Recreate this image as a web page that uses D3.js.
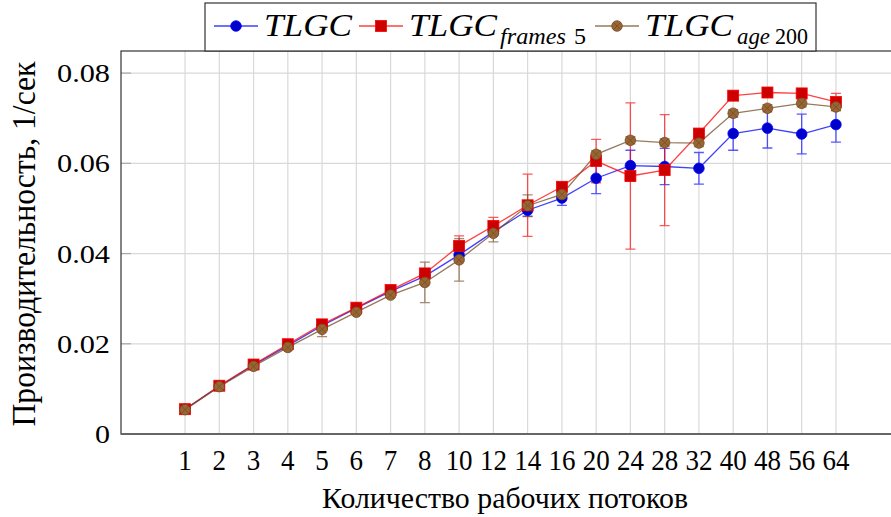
<!DOCTYPE html>
<html>
<head>
    <meta charset="utf-8">
    <script src="https://d3js.org/d3.v7.min.js"></script>
    <style>
        body { margin: 0; background: #fff; }
        text { font-family: 'Liberation Serif', 'DejaVu Serif', serif; fill: #000; }
    </style>
</head>
<body>
    <svg id="chart" width="891" height="517"></svg>
    <script>
        // thread counts on the x axis
        var threads = ["1", "2", "3", "4", "5", "6", "7", "8", "10", "12", "14", "16", "20", "24", "28", "32", "40", "48", "56", "64"];
        var yTicks = [0, 0.02, 0.04, 0.06, 0.08];
        var yTickLabels = ["0", "0.02", "0.04", "0.06", "0.08"];

        // TLGC
        var tlgc = [0.0055, 0.0106, 0.0153, 0.0196, 0.0240, 0.0279, 0.0316, 0.0350, 0.0397, 0.0448, 0.0496, 0.0523, 0.0567, 0.0595, 0.0593, 0.0589, 0.0666, 0.0678, 0.0665, 0.0686];
        var tlgcErr = [0.0002, 0.0003, 0.0003, 0.0004, 0.0004, 0.0004, 0.0005, 0.0006, 0.0008, 0.0008, 0.0013, 0.0016, 0.0034, 0.0034, 0.0040, 0.0035, 0.0037, 0.0044, 0.0044, 0.0039];
        // TLGC frames 5
        var frames5 = [0.0055, 0.0107, 0.0154, 0.0199, 0.0243, 0.0280, 0.0319, 0.0356, 0.0417, 0.0461, 0.0507, 0.0548, 0.0605, 0.0572, 0.0585, 0.0666, 0.0750, 0.0757, 0.0755, 0.0736];
        var frames5Err = [0.0002, 0.0003, 0.0003, 0.0004, 0.0004, 0.0005, 0.0005, 0.0006, 0.0022, 0.0019, 0.0069, 0.0008, 0.0048, 0.0162, 0.0123, 0.0008, 0.0006, 0.0006, 0.0006, 0.0019];
        // TLGC age 200
        var age200 = [0.0054, 0.0105, 0.0150, 0.0192, 0.0232, 0.0270, 0.0308, 0.0336, 0.0386, 0.0445, 0.0506, 0.0531, 0.0620, 0.0651, 0.0646, 0.0645, 0.0711, 0.0722, 0.0733, 0.0725];
        var age200Err = [0.0002, 0.0003, 0.0003, 0.0004, 0.0016, 0.0005, 0.0005, 0.0045, 0.0047, 0.0019, 0.0024, 0.0008, 0.0008, 0.0008, 0.0008, 0.0008, 0.0008, 0.0008, 0.0008, 0.0008];

        var series = [
            { values: tlgc, errs: tlgcErr, line: "#0000ff", fill: "#0000cc", stroke: "#0000ff", mark: "circle", sub: null, num: null },
            { values: frames5, errs: frames5Err, line: "#ff0000", fill: "#cc0000", stroke: "#ff0000", mark: "square", sub: "frames", num: "5" },
            { values: age200, errs: age200Err, line: "#734d26", fill: "#996633", stroke: "#734d26", mark: "otimes", sub: "age", num: "200" }
        ];

        var svg = d3.select("#chart");
        var plotLeft = 121, plotRight = 900, plotTop = 51, plotBottom = 434;

        var x = d3.scalePoint()
            .domain(threads)
            .range([plotLeft, plotRight])
            .padding(1.87);
        var y = d3.scaleLinear()
            .domain([0, 0.0849])
            .range([plotBottom, plotTop]);

        // grid
        svg.append("g")
            .selectAll("line")
            .data(threads)
            .enter().append("line")
            .attr("x1", d => x(d)).attr("x2", d => x(d))
            .attr("y1", plotTop).attr("y2", plotBottom)
            .style("stroke", "#d9d9d9").style("stroke-width", 1.2);
        svg.append("g")
            .selectAll("line")
            .data(yTicks.slice(1))
            .enter().append("line")
            .attr("x1", plotLeft).attr("x2", plotRight)
            .attr("y1", d => y(d)).attr("y2", d => y(d))
            .style("stroke", "#d9d9d9").style("stroke-width", 1.2);
        // small ticks on the left axis
        svg.append("g")
            .selectAll("line")
            .data(yTicks.slice(1))
            .enter().append("line")
            .attr("x1", plotLeft).attr("x2", plotLeft + 10)
            .attr("y1", d => y(d)).attr("y2", d => y(d))
            .style("stroke", "#aaa").style("stroke-width", 1.2);

        // frame
        svg.append("rect")
            .attr("x", plotLeft).attr("y", plotTop)
            .attr("width", plotRight - plotLeft).attr("height", plotBottom - plotTop)
            .style("fill", "none").style("stroke", "#333").style("stroke-width", 1.2);
        svg.append("line")
            .attr("x1", plotLeft).attr("x2", plotRight)
            .attr("y1", plotBottom).attr("y2", plotBottom)
            .style("stroke", "#666").style("stroke-width", 2.2);

        // tick labels
        svg.append("g")
            .selectAll("text")
            .data(yTicks)
            .enter().append("text")
            .attr("x", 110)
            .attr("y", d => y(d) + 9)
            .attr("text-anchor", "end")
            .attr("textLength", (d, i) => i == 0 ? 15 : 53)
            .attr("lengthAdjust", "spacingAndGlyphs")
            .style("font-size", "26px")
            .text((d, i) => yTickLabels[i]);

        svg.append("g")
            .selectAll("text")
            .data(threads)
            .enter().append("text")
            .attr("transform", d => "translate(" + x(d) + ",470) scale(0.9,1)")
            .attr("text-anchor", "middle")
            .style("font-size", "30px")
            .text(d => d);

        // axis titles
        svg.append("text")
            .attr("x", 505).attr("y", 508)
            .attr("text-anchor", "middle")
            .attr("textLength", 366)
            .attr("lengthAdjust", "spacingAndGlyphs")
            .style("font-size", "29px")
            .text("Количество рабочих потоков");

        svg.append("text")
            .attr("transform", "translate(35,244) rotate(-90)")
            .attr("text-anchor", "middle")
            .attr("textLength", 365)
            .attr("lengthAdjust", "spacingAndGlyphs")
            .style("font-size", "33px")
            .text("Производительность, 1/сек");

        function drawMark(g, s, cx, cy) {
            if (s.mark == "circle") {
                g.append("circle").attr("cx", cx).attr("cy", cy).attr("r", 5.3)
                    .style("fill", s.fill).style("stroke", s.stroke).style("stroke-width", 0.8);
            } else if (s.mark == "square") {
                g.append("rect").attr("x", cx - 5.5).attr("y", cy - 5.5)
                    .attr("width", 11).attr("height", 11)
                    .style("fill", s.fill).style("stroke", s.stroke).style("stroke-width", 0.8);
            } else {
                g.append("circle").attr("cx", cx).attr("cy", cy).attr("r", 5.3)
                    .style("fill", s.fill).style("stroke", s.stroke).style("stroke-width", 0.8);
                var k = 5.3 * Math.SQRT1_2;
                g.append("path")
                    .attr("d", "M" + (cx - k) + "," + (cy - k) + "L" + (cx + k) + "," + (cy + k) +
                        "M" + (cx - k) + "," + (cy + k) + "L" + (cx + k) + "," + (cy - k))
                    .style("stroke", s.stroke).style("stroke-width", 0.8);
            }
        }

        var line = d3.line()
            .x((d, i) => x(threads[i]))
            .y(d => y(d));

        var plots = svg.append("g");
        series.forEach(function (s) {
            var g = plots.append("g");
            g.append("path")
                .datum(s.values)
                .attr("d", line)
                .style("fill", "none")
                .style("stroke", s.line)
                .style("stroke-opacity", 0.75)
                .style("stroke-width", 1.3);
            s.values.forEach(function (v, i) {
                var cx = x(threads[i]);
                var lo = y(v - s.errs[i]), hi = y(v + s.errs[i]);
                g.append("path")
                    .attr("d", "M" + cx + "," + lo + "L" + cx + "," + hi +
                        "M" + (cx - 5) + "," + lo + "L" + (cx + 5) + "," + lo +
                        "M" + (cx - 5) + "," + hi + "L" + (cx + 5) + "," + hi)
                    .style("fill", "none")
                    .style("stroke", s.line)
                    .style("stroke-opacity", 0.65)
                    .style("stroke-width", 1.3);
            });
        });
        series.forEach(function (s) {
            var g = plots.append("g");
            s.values.forEach(function (v, i) {
                drawMark(g, s, x(threads[i]), y(v));
            });
        });

        // legend
        var legend = svg.append("g");
        legend.append("rect")
            .attr("x", 205).attr("y", 3)
            .attr("width", 611).attr("height", 48)
            .style("fill", "#fff").style("stroke", "#333").style("stroke-width", 1.2);

        var legendX = [214, 359, 595];
        var subX = [null, [500, 574], [737, 775]];
        var subLen = [null, [66, 12], [33, 33]];
        series.forEach(function (s, i) {
            var lx = legendX[i];
            legend.append("line")
                .attr("x1", lx).attr("x2", lx + 44)
                .attr("y1", 26).attr("y2", 26)
                .style("stroke", s.line).style("stroke-opacity", 0.75).style("stroke-width", 1.3);
            drawMark(legend, s, lx + 22, 26);
            legend.append("text")
                .attr("x", lx + 50).attr("y", 36)
                .attr("textLength", 88)
                .attr("lengthAdjust", "spacingAndGlyphs")
                .style("font-size", "32px")
                .style("font-style", "italic")
                .text("TLGC");
            if (s.sub) {
                legend.append("text")
                    .attr("x", subX[i][0]).attr("y", 44)
                    .attr("textLength", subLen[i][0])
                    .attr("lengthAdjust", "spacingAndGlyphs")
                    .style("font-size", "23px")
                    .style("font-style", "italic")
                    .text(s.sub);
                legend.append("text")
                    .attr("x", subX[i][1]).attr("y", 44)
                    .attr("textLength", subLen[i][1])
                    .attr("lengthAdjust", "spacingAndGlyphs")
                    .style("font-size", "23px")
                    .text(s.num);
            }
        });
    </script>
</body>
</html>
